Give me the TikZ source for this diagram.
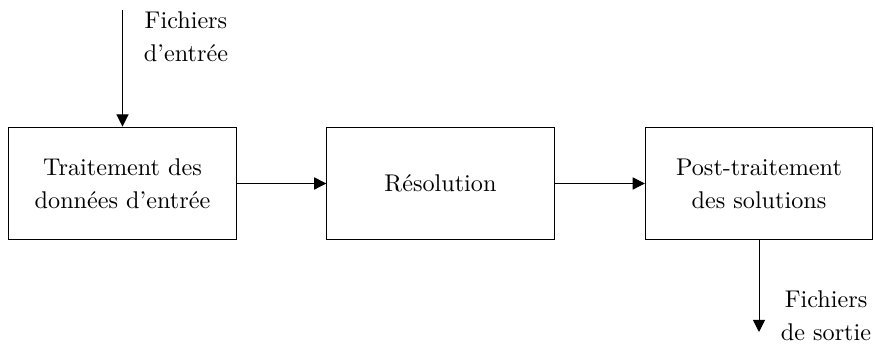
\documentclass[tikz,border=0pt]{standalone}
\usetikzlibrary{arrows.meta}
\begin{document}
\begin{tikzpicture}[x=0.4134pt,y=-0.4134pt,
  blk/.style={draw,minimum width=94pt,minimum height=46.7pt,align=center,inner sep=0pt,font=\fontsize{10}{13.6}\selectfont},
  lbl/.style={align=center,inner sep=0pt,font=\fontsize{10}{13.6}\selectfont},
  arr/.style={-{Triangle[length=5pt,width=5pt]}}]
\useasboundingbox (0,0) rectangle (875,357);
\node[blk] (b1) at (122.5,183.5) {Traitement des\\donn\'ees d'entr\'ee};
\node[blk] (b2) at (440.5,183.5) {R\'esolution};
\node[blk] (b3) at (759,183.5) {Post-traitement\\des solutions};
\coordinate (in) at (122.5,10);
\coordinate (out) at (759,332);
\node[lbl] (lin) at (186,37) {Fichiers\\d'entr\'ee};
\node[lbl] (lout) at (826,316) {Fichiers\\de sortie};
\draw[arr] (in) -- (b1.north);
\draw[arr] (b1) -- (b2);
\draw[arr] (b2) -- (b3);
\draw[arr] (b3.south) -- (out);
\end{tikzpicture}
\end{document}
